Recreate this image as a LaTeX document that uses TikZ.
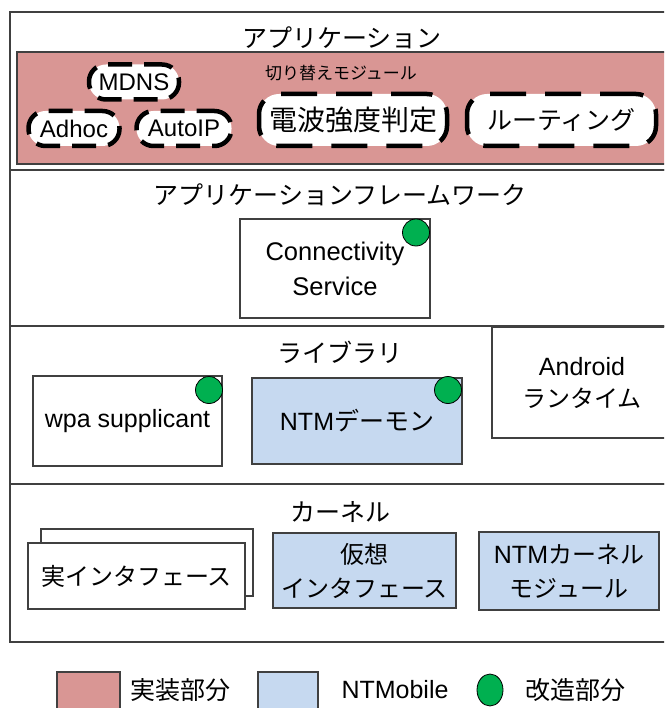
\documentclass[tikz,border=0pt]{standalone}
\usepackage{fontspec}
\setmainfont{Noto Sans CJK JP}
\newfontfamily\lat{Liberation Sans}
\usetikzlibrary{shapes.geometric}

\definecolor{implred}{HTML}{D99694}
\definecolor{ntmblue}{HTML}{C6D9F0}
\definecolor{modgreen}{HTML}{00B050}
\definecolor{frameline}{HTML}{404040}

\begin{document}
\begin{tikzpicture}[x=1pt,y=-1pt,
  layerbox/.style={draw=frameline, line width=1.4pt},
  title/.style={inner sep=0pt, font=\fontsize{25}{28}\selectfont},
  box/.style={draw=frameline, line width=1.2pt, fill=white, align=center,
    inner sep=0pt, font=\fontsize{24}{34}\selectfont},
  ntmbox/.style={box, fill=ntmblue},
  dashbox/.style={draw=black, fill=white, line width=4.5pt,
    dash pattern=on 24pt off 12pt, dash phase=6pt, inner sep=0pt,
    font=\fontsize{24}{30}\selectfont},
  bigdash/.style={dashbox, dash pattern=on 36pt off 19pt, dash phase=0pt,
    rounded corners=20pt},
  smalldash/.style={dashbox, rounded corners=17pt},
  moddot/.style={circle, draw=black, line width=0.8pt, fill=modgreen,
    minimum size=27pt, inner sep=0pt},
  legendkey/.style={draw=frameline, line width=1.2pt, inner sep=0pt},
]
\useasboundingbox (0,0) rectangle (664,708);
\clip (0,0) rectangle (664,708);

% --- layers ---------------------------------------------------------
\draw[layerbox] (10,12) rectangle (672,170);
\draw[layerbox] (10,170) rectangle (672,326);
\draw[layerbox] (10,326) rectangle (672,484);
\draw[layerbox] (10,484) rectangle (672,642);

% --- application layer ---------------------------------------------
\node[title] (apptitle) at (342,38) {アプリケーション};
\draw[draw=frameline, line width=1.2pt, fill=implred] (17,52) rectangle (672,164);
\node[inner sep=0pt, font=\fontsize{17}{20}\selectfont] (switch) at (341,73) {切り替えモジュール};

\node[smalldash, minimum width=90pt, minimum height=35pt] (mdns) at (134,82) {\lat MDNS};
\node[smalldash, minimum width=91pt, minimum height=35pt] (adhoc) at (74,128.5) {\lat Adhoc};
\node[smalldash, minimum width=95pt, minimum height=35pt] (autoip) at (184,128.5) {\lat AutoIP};
\node[bigdash, minimum width=188pt, minimum height=52pt, font=\fontsize{28}{30}\selectfont]
  (signal) at (353,120) {電波強度判定};
\node[bigdash, minimum width=189pt, minimum height=52pt, font=\fontsize{25}{30}\selectfont]
  (routing) at (561.5,120) {ルーティング};

% --- application framework -----------------------------------------
\node[title] (fwtitle) at (340,195) {アプリケーションフレームワーク};
\node[box, minimum width=190pt, minimum height=99pt, font=\lat\fontsize{25.5}{35}\selectfont]
  (conn) at (335,268.5) {Connectivity\\Service};
\node[moddot] (connmod) at (416,232.5) {};

% --- libraries -----------------------------------------------------
\node[title] (libtitle) at (340,352) {ライブラリ};
\node[box, minimum width=189pt, minimum height=90pt] (wpa) at (127.5,421) {{\lat\fontsize{25}{30}\selectfont wpa supplicant}};
\node[moddot] (wpamod) at (209,390) {};
\node[ntmbox, minimum width=210pt, minimum height=86pt, font=\fontsize{25}{34}\selectfont] (ntmd) at (357,421) {{\lat NTM}デーモン};
\node[moddot] (ntmdmod) at (448,390) {};
\node[box, minimum width=180pt, minimum height=111pt, font=\fontsize{24}{32}\selectfont]
  (runtime) at (582,382.5) {{\lat\fontsize{25}{32}\selectfont Android}\\ランタイム};

% --- kernel --------------------------------------------------------
\node[title] (kerntitle) at (340,512) {カーネル};
\node[box, minimum width=212pt, minimum height=67pt] (realback) at (147,562.5) {};
\node[box, minimum width=217pt, minimum height=66pt] (realif) at (136.5,576) {実インタフェース};
\node[ntmbox, minimum width=183pt, minimum height=75pt] (virtif) at (364.5,570.5) {仮想\\インタフェース};
\node[ntmbox, minimum width=180pt, minimum height=78pt] (ntmk) at (569,571) {{\lat\fontsize{25}{34}\selectfont NTM}カーネル\\モジュール};

% --- legend --------------------------------------------------------
\node[legendkey, fill=implred, minimum width=63pt, minimum height=46pt] (keyimpl) at (88.5,695) {};
\node[title] (lblimpl) at (180,690) {実装部分};
\node[legendkey, fill=ntmblue, minimum width=60pt, minimum height=46pt] (keyntm) at (288,695) {};
\node[inner sep=0pt, font=\lat\fontsize{25}{30}\selectfont] (lblntm) at (395,690) {NTMobile};
\node[ellipse, draw=black, line width=0.8pt, fill=modgreen, minimum width=26pt, minimum height=32pt, inner sep=0pt] (keymod) at (490,690) {};
\node[title] (lblmod) at (575,690) {改造部分};
\end{tikzpicture}
\end{document}
